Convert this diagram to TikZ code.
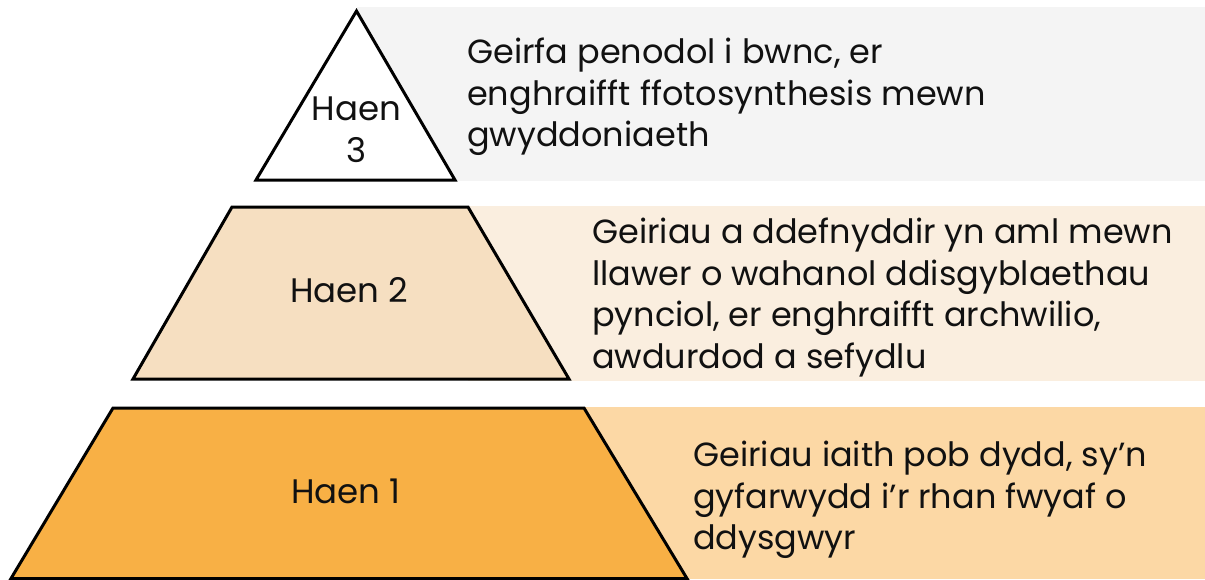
\documentclass[tikz,border=0pt]{standalone}
\usepackage{fontspec}
\setmainfont{Poppins}
\definecolor{bgthree}{HTML}{F4F4F4}
\definecolor{bgtwo}{HTML}{FAEEDF}
\definecolor{bgone}{HTML}{FCD8A5}
\definecolor{filltwo}{HTML}{F6DFC1}
\definecolor{fillone}{HTML}{F8B045}
\definecolor{ink}{HTML}{111111}
\begin{document}
\begin{tikzpicture}[x=1pt,y=-1pt,
  tier/.style={draw=black,line width=3pt,line join=miter},
  desc/.style={anchor=north west,inner sep=0pt,align=left,text=ink,
    font=\fontsize{33.5}{41.8}\selectfont},
  lbl/.style={inner sep=0pt,align=center,text=ink,
    font=\fontsize{34}{42}\selectfont}]
\useasboundingbox (0,0) rectangle (1205,579);
% backgrounds
\fill[bgthree] (357,7) rectangle (1205,181);
\fill[bgtwo] (468,206) rectangle (1205,381);
\fill[bgone] (584,407) rectangle (1205,579);
% tiers
\draw[tier,fill=white] (356.5,11) -- (455,180) -- (256,180) -- cycle;
\draw[tier,fill=filltwo] (232,207) -- (468,207) -- (569,379) -- (133,379) -- cycle;
\draw[tier,fill=fillone] (113,408) -- (584,408) -- (687,578.5) -- (11,578.5) -- cycle;
% labels
\node[lbl,anchor=base] (l3a) at (356.5,120) {Haen};
\node[lbl,anchor=base] (l3b) at (356.5,162) {3};
\node[lbl,anchor=base] (l2) at (349,302) {Haen 2};
\node[lbl,anchor=base] (l1) at (346,503) {Haen 1};
% descriptions
\node[desc] (d3) at (467,37.5) {Geirfa penodol i bwnc, er\\enghraifft ffotosynthesis mewn\\gwyddoniaeth};
\node[desc] (d2) at (592,217.5) {Geiriau a ddefnyddir yn aml mewn\\llawer o wahanol ddisgyblaethau\\pynciol, er enghraifft archwilio,\\awdurdod a sefydlu};
\node[desc] (d1) at (693,440.5) {Geiriau iaith pob dydd, sy’n\\gyfarwydd i’r rhan fwyaf o\\ddysgwyr};
\end{tikzpicture}
\end{document}
